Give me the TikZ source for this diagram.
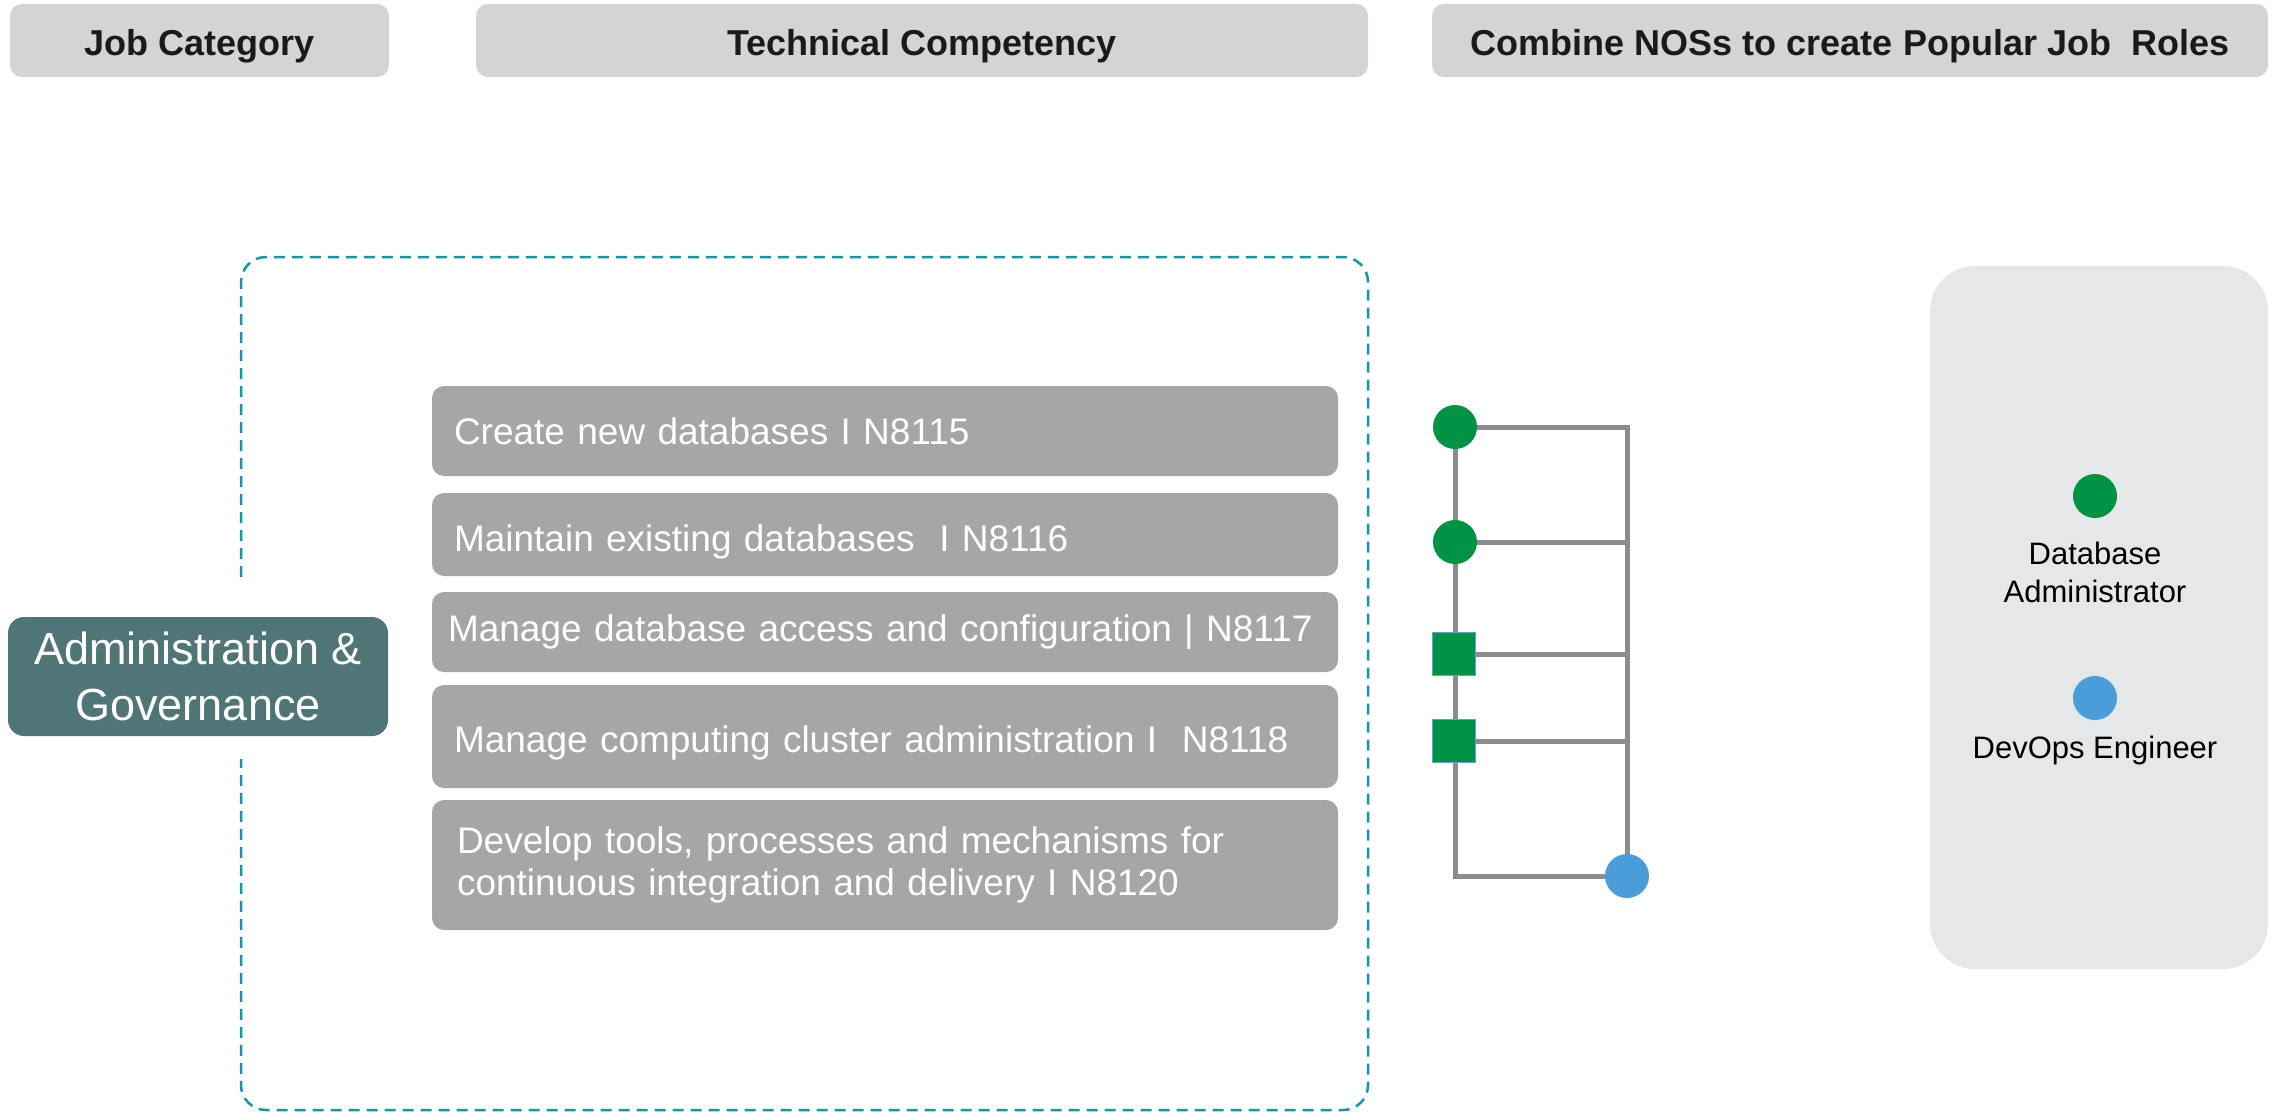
\documentclass[tikz,border=0pt]{standalone}
\usepackage{fontspec}
\setmainfont{Liberation Sans}
\usetikzlibrary{backgrounds}

\definecolor{hdrgray}{HTML}{D3D4D4}
\definecolor{nosgray}{HTML}{A6A6A6}
\definecolor{catteal}{HTML}{4F7576}
\definecolor{dashteal}{HTML}{1496A8}
\definecolor{panelgray}{HTML}{E6E7E8}
\definecolor{linkgray}{HTML}{8C8C8C}
\definecolor{dotgreen}{HTML}{009245}
\definecolor{dotblue}{HTML}{4A9DD8}
\definecolor{sqedge}{HTML}{6A9BD8}
\definecolor{hdrtext}{HTML}{1A1A1A}

\tikzset{
  header/.style={rectangle, rounded corners=12pt, fill=hdrgray, inner sep=0pt,
    minimum height=73pt, text=hdrtext, text height=31pt, text depth=0pt,
    font=\fontsize{36}{42}\selectfont\bfseries},
  category/.style={rectangle, rounded corners=16pt, fill=catteal, text=white,
    inner sep=0pt, minimum width=380pt, minimum height=119pt, align=center,
    font=\fontsize{45}{56}\selectfont},
  nosbox/.style={rectangle, rounded corners=12pt, fill=nosgray, text=white,
    inner ysep=0pt, inner xsep=22pt, text width=862pt, align=left,
    font=\fontsize{37}{42}\selectfont},
  panel/.style={rectangle, rounded corners=45pt, fill=panelgray, inner sep=0pt,
    minimum width=338pt, minimum height=703pt},
  gdot/.style={circle, fill=dotgreen, inner sep=0pt, minimum size=44pt},
  bdot/.style={circle, fill=dotblue, inner sep=0pt, minimum size=44pt},
  gsq/.style={rectangle, fill=dotgreen, draw=sqedge, line width=1.5pt,
    inner sep=0pt, minimum size=43pt},
  link/.style={draw=linkgray, line width=5pt},
  rolelabel/.style={align=center, inner sep=0pt,
    font=\fontsize{31}{38}\selectfont},
  frame/.style={draw=dashteal, line width=2.5pt, dash pattern=on 11pt off 7pt,
    rounded corners=25pt},
}

\begin{document}
\begin{tikzpicture}[x=1pt, y=-1pt]
  \useasboundingbox (0,0) rectangle (2275,1113);

  % column headers
  \node[header, minimum width=379pt] (hcat) at (199.5,40.5) {Job Category};
  \node[header, minimum width=892pt] (htech) at (922,40.5) {Technical Competency};
  \node[header, minimum width=836pt] (hroles) at (1850,40.5) {Combine NOSs to create Popular Job\ \ Roles};

  % dashed frame around the competencies, open where the category box sits
  \draw[frame] (241,577) -- (241,257) -- (1368,257) -- (1368,1110)
    -- (241,1110) -- (241,759);

  % job category
  \node[category] (cat) at (198,676.5) {Administration \&\\Governance};

  % national occupational standards
  \node[nosbox, minimum height=90pt] (n1) at (885,431) {Create new databases I N8115};
  \node[nosbox, minimum height=83pt, text height=33pt, text depth=0pt] (n2) at (885,534.5) {Maintain existing databases\ \ I N8116};
  \node[nosbox, minimum height=80pt, inner xsep=16pt, text width=874pt] (n3) at (885,632) {Manage database access and configuration | N8117};
  \node[nosbox, minimum height=103pt, text height=31pt, text depth=0pt] (n4) at (885,736.5) {Manage computing cluster administration I\ \ N8118};
  \node[nosbox, minimum height=130pt, inner xsep=25pt, text width=856pt] (n5) at (885,865) {Develop tools, processes and mechanisms for\\continuous integration and delivery I N8120};

  % role markers per standard
  \node[gdot] (d1) at (1455,427) {};
  \node[gdot] (d2) at (1455,542) {};
  \node[gsq]  (d3) at (1454,654) {};
  \node[gsq]  (d4) at (1454,741) {};
  \node[bdot] (d5) at (1627,876) {};

  \begin{pgfonlayer}{background}
    \draw[link] (d1.center) -- (d1.center -| d5.center) -- (d5.center);
    \draw[link] (d1.center) -- (d1.center |- d5.center) -- (d5.center);
    \draw[link] (d2.center) -- (d2.center -| d5.center);
    \draw[link] (d3.center) -- (d3.center -| d5.center);
    \draw[link] (d4.center) -- (d4.center -| d5.center);
  \end{pgfonlayer}

  % job roles legend
  \node[panel] (pan) at (2099,617.5) {};
  \node[gdot] (kdba) at (2095,496) {};
  \node[rolelabel] (ldba) at (2095,572) {Database\\Administrator};
  \node[bdot] (kdev) at (2095,698) {};
  \node[rolelabel] (ldev) at (2095,750) {DevOps Engineer};
\end{tikzpicture}
\end{document}
